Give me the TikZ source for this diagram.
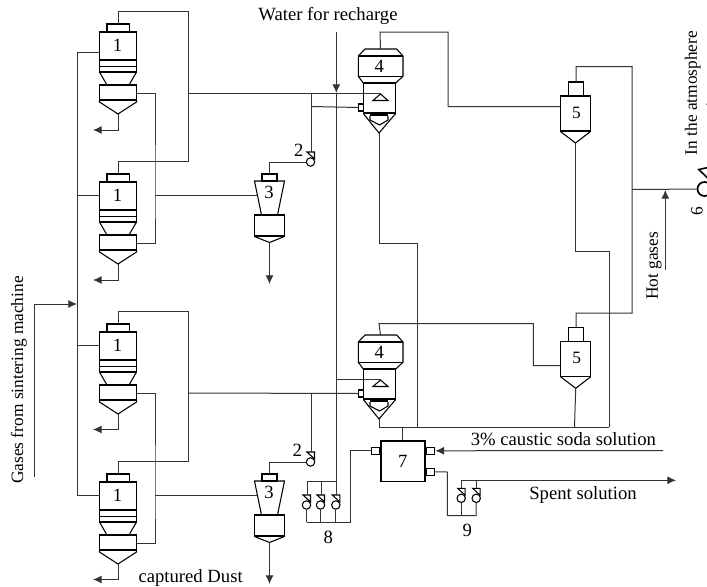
\documentclass[tikz,border=0pt]{standalone}
\usepackage{fontspec}
\setmainfont{Liberation Serif}
\usetikzlibrary{arrows.meta,calc}
\newcommand{\lblfont}{\fontsize{14}{16}\selectfont}
\newcommand{\sidefont}{\fontsize{13}{15}\selectfont}
\tikzset{
  unit/.style={line width=0.8pt},
  pipe/.style={line width=0.75pt,black!80},
  flow/.style={pipe,-{Latex[length=6.5pt,width=6pt]}},
  lbl/.style={font=\lblfont,inner sep=0pt},
  filter/.pic={
    \draw[unit] (-11,-8) rectangle (11.5,0);
    \draw[unit] (-18.5,0) rectangle (18.5,40);
    \draw[unit] (-18.5,28) -- (18.5,28) (-18.5,34.5) -- (18.5,34.5);
    \draw[unit] (-18.5,40) -- (-11,53) (18.5,40) -- (11,53);
    \draw[unit] (-18.5,53) rectangle (18.5,68);
    \draw[unit] (-18.5,68) -- (-18.5,70) -- (0,82) -- (18.5,70) -- (18.5,68);
    \node[lbl] (-num) at (-0.5,13) {1};
    \coordinate (-top) at (0.5,-8);
    \coordinate (-left) at (-18.5,13);
    \coordinate (-ret) at (18.5,61);
    \coordinate (-out) at (0,82);
  },
  cyclone/.pic={
    \draw[unit] (-7.5,-7) rectangle (7.5,0);
    \draw[unit] (-15,0) -- (15,0) -- (8,34) -- (-8,34) -- cycle;
    \draw[unit] (-15,34) rectangle (15,55);
    \draw[unit] (-15,55.5) -- (0,61.5) -- (15,55.5);
    \node[lbl] (-num) at (-0.5,11) {3};
    \coordinate (-top) at (0,-7);
    \coordinate (-in) at (-12.5,14);
    \coordinate (-out) at (0,61.5);
  },
  scrubber/.pic={
    \draw[unit] (-22.4,7) -- (-15.7,0) -- (16,0) -- (22.3,7) -- (22.3,27.3) -- (15,34) -- (-17.4,34) -- (-22.4,27.3) -- cycle;
    \draw[unit] (-22.4,7) -- (22.3,7) (-22.4,27.3) -- (22.3,27.3);
    \draw[unit] (-17.4,34) rectangle (15,64);
    \draw[unit] (-17.4,64.5) -- (-1.7,84) -- (15,64.5);
    \fill (-10.7,65) rectangle (7.3,67);
    \draw[unit] (-10.7,67) -- (-10.7,71) -- (-1.2,76) -- (7.3,71) -- (7.3,67);
    \draw[unit] (-0.2,45) -- (-7.7,51.5) -- (7.3,51.5) -- cycle;
    \draw[unit] (-22.4,55) rectangle (-17.4,62);
    \node[lbl] (-num) at (-1.5,17.5) {4};
    \coordinate (-top) at (-0.2,0);
    \coordinate (-tri) at (-0.2,45);
    \coordinate (-port) at (-22.4,58.5);
    \coordinate (-out) at (-1.7,84);
  },
  separator/.pic={
    \draw[unit] (-7.2,-14) rectangle (7.8,0);
    \draw[unit] (-15,0) rectangle (15,35);
    \draw[unit] (-15,35.5) -- (0,47) -- (15,35.5);
    \node[font=\sidefont,inner sep=0pt] (-num) at (1,16.7) {5};
    \coordinate (-top) at (0.5,-14);
    \coordinate (-left) at (-15,10.5);
    \coordinate (-out) at (0,47);
  },
  valve/.pic={
    \draw[unit] (-4,0) -- (3.5,0) -- (3.5,7) -- cycle;
    \node[draw,unit,circle,inner sep=0pt,minimum size=6.3pt] (-ball) at (-0.5,10) {};
    \coordinate (-in) at (0,0);
  }
}
\begin{document}
\begin{tikzpicture}[x=0.75pt,y=-0.75pt]
  \clip (0,0) rectangle (707,586);
  % first-stage filters
  \pic (fa) at (118,32) {filter};
  \pic (fb) at (118,182) {filter};
  \pic (fc) at (118,332) {filter};
  \pic (fd) at (118,482) {filter};
  \pic (ca) at (269.5,181) {cyclone};
  \pic (cb) at (269.5,481) {cyclone};
  \pic (sa) at (380.7,49) {scrubber};
  \pic (sb) at (380.7,335) {scrubber};
  \pic (da) at (575.5,96) {separator};
  \pic (db) at (575.7,341.3) {separator};
  \pic (va) at (311,152) {valve};
  \pic (vb) at (311,452) {valve};
  \pic (ve) at (307,495) {valve};
  \pic (vf) at (321,495) {valve};
  \pic (vg) at (336.3,495) {valve};
  \pic (vh) at (461.7,488.3) {valve};
  \pic (vi) at (476.7,488.3) {valve};
  \node[draw,line width=1.1pt,minimum width=33pt,minimum height=30.6pt,inner sep=0pt,font=\lblfont] (tank) at (402.8,461.2) {7};
  \node[draw,unit,minimum width=6.3pt,minimum height=5.2pt,inner sep=0pt,anchor=east] (portl) at (tank.west |- 0,450.8) {};
  \node[draw,unit,minimum width=6.6pt,minimum height=5.2pt,inner sep=0pt,anchor=west] (portr) at (tank.east |- 0,450.8) {};
  \node[draw,unit,minimum width=6.6pt,minimum height=5.2pt,inner sep=0pt,anchor=west] (portq) at (tank.east |- 0,471.8) {};
  \node[draw,line width=1.3pt,circle,inner sep=0pt,minimum size=10.5pt] (fan) at (704.5,189) {};
  \draw[line width=1.2pt] (708,167.5) -- (698.8,169.5) -- (708,178.5);
  % gas header
  \coordinate (hdra) at (77.5,52);
  \coordinate (hdrb) at (77.5,195);
  \coordinate (hdrc) at (77.5,345.5);
  \coordinate (hdrd) at (77.5,495);
  \coordinate (feeda) at (34.5,476.5);
  \coordinate (feedb) at (77,304);
  \draw[pipe] (fa-left |- hdra) -- (hdra) -- (hdrd) -- (fd-left |- hdrd);
  \draw[pipe] (hdrb) -- (fb-left |- hdrb);
  \draw[pipe] (hdrc) -- (fc-left |- hdrc);
  \draw[flow] (feeda) |- (feedb);
  % filter outlets, upper pair
  \coordinate (gasa) at (188,11);
  \coordinate (gasb) at (188,161);
  \coordinate (gasj) at (188,93);
  \coordinate (tapa) at (311,93);
  \coordinate (tapb) at (311,106.5);
  \coordinate (reta) at (155,195);
  \draw[pipe] (fa-top) |- (gasa) -- (gasb) -| (fb-top);
  \draw[pipe] (gasj) -- (sa-tri |- gasj);
  \draw[pipe] (tapa) -- (va-in);
  \draw[pipe] (tapb) -- (sa-port);
  \draw[pipe] (fa-ret) -| (reta) |- (fb-ret);
  \draw[pipe] (reta) -- (ca-in);
  \draw[pipe] (va-ball.west) -| (ca-top);
  % filter outlets, lower pair
  \coordinate (gasc) at (188,311);
  \coordinate (gasd) at (188,461);
  \coordinate (gask) at (188,393);
  \coordinate (tapc) at (311,393);
  \coordinate (retb) at (155,495);
  \draw[pipe] (fc-top) |- (gasc) -- (gasd) -| (fd-top);
  \draw[pipe] (gask) -- (sb-port);
  \draw[pipe] (tapc) -- (vb-in);
  \draw[pipe] (fc-ret) -| (retb) |- (fd-ret);
  \draw[pipe] (retb) -- (cb-in);
  \draw[pipe] (vb-ball.west) -| (cb-top);
  % dust outlets
  \coordinate (dusta) at (93,130);
  \coordinate (dustb) at (93,280);
  \coordinate (dustc) at (93,429.5);
  \coordinate (dustd) at (93,579.5);
  \coordinate (sinka) at (269.5,284);
  \coordinate (sinkb) at (269.5,584);
  \draw[flow] (fa-out) |- (dusta);
  \draw[flow] (fb-out) |- (dustb);
  \draw[flow] (fc-out) |- (dustc);
  \draw[flow] (fd-out) |- (dustd);
  \draw[flow] (ca-out) -- (sinka);
  \draw[flow] (cb-out) -- (sinkb);
  % water
  \coordinate (wata) at (336.3,32);
  \coordinate (watb) at (336.3,93);
  \coordinate (watc) at (336.3,379.5);
  \coordinate (watd) at (336.3,481.7);
  \coordinate (bara) at (307,481.7);
  \coordinate (barb) at (307,522.3);
  \coordinate (barc) at (350.7,522.3);
  \draw[flow] (wata) -- (watb);
  \draw[pipe] (watb) -- (watd) -- (bara) -- (ve-in);
  \draw[pipe] (watc) -- (sb-tri |- watc);
  \draw[pipe] (vf-in |- watd) -- (vf-in);
  \draw[pipe] (watd) -- (vg-in);
  \draw[pipe] (ve-ball.south) -- (ve-ball.south |- barb);
  \draw[pipe] (vf-ball.south) -- (vf-ball.south |- barb);
  \draw[pipe] (vg-ball.south) -- (vg-ball.south |- barb);
  \draw[pipe] (ve-ball.south |- barb) -- (barc) |- (portl);
  % second stage
  \coordinate (upa) at (380,32);
  \coordinate (upb) at (448,32);
  \coordinate (upc) at (448,106.5);
  \coordinate (dna) at (379,243);
  \coordinate (dnb) at (417.3,243);
  \coordinate (dnc) at (417.3,427);
  \coordinate (coll) at (379,427);
  \coordinate (colr) at (609.3,427);
  \coordinate (colm) at (574.5,427);
  \coordinate (colt) at (402.8,427);
  \draw[pipe] (sa-top) -- (upa) -- (upb) -- (upc) -- (da-left);
  \draw[pipe] (sa-out) -- (dna) -- (dnb) -- (dnc);
  \draw[pipe] (sb-out) -- (coll) -- (colr);
  \draw[pipe] (colt) -- (tank);
  \draw[pipe] (db-out) -- (colm);
  \coordinate (upd) at (533.3,323.5);
  \coordinate (upe) at (379,323.5);
  \draw[pipe] (db-left |- 0,365.7) -| (upd) -- (upe) -- (sb-top);
  \coordinate (dnd) at (575.5,251.5);
  \coordinate (dne) at (609.3,251.5);
  \draw[pipe] (da-out) -- (dnd) -- (dne) -- (colr);
  % stack
  \coordinate (staa) at (576,66.5);
  \coordinate (stab) at (632,66.5);
  \coordinate (stac) at (632,313);
  \coordinate (stad) at (576,313);
  \coordinate (staj) at (632,189.5);
  \draw[pipe] (da-top) |- (staa) -- (stab) -- (stac) -- (stad) -- (db-top);
  \draw[pipe] (staj) -- (fan);
  \coordinate (hota) at (665.3,269.5);
  \coordinate (hotb) at (665.3,190);
  \draw[flow] (hota) -- (hotb);
  \coordinate (atma) at (710,170);
  \coordinate (atmb) at (710,96);
  \draw[flow] (atma) -- (atmb);
  % solution
  \coordinate (soda) at (663,450.5);
  \coordinate (spta) at (447.3,472);
  \coordinate (sptb) at (447.3,515.7);
  \coordinate (sptc) at (461.7,480.3);
  \coordinate (sptd) at (676,480.3);
  \draw[flow] (soda) -- (portr);
  \draw[pipe] (portq) -- (spta) -- (sptb) -- (vi-ball.south |- sptb) -- (vi-ball.south);
  \draw[pipe] (vh-ball.south) -- (vh-ball.south |- sptb);
  \draw[pipe] (sptc) -- (vh-in);
  \draw[pipe] (vi-in |- sptc) -- (vi-in);
  \draw[flow] (sptc) -- (sptd);
  % labels
  \node[lbl] (water) at (328,16) {Water for recharge};
  \node[lbl] (dust) at (190.6,578) {captured Dust};
  \node[lbl] (caustic) at (563.4,439) {3\% caustic soda solution};
  \node[lbl] (spent) at (583,495) {Spent solution};
  \node[font=\sidefont,inner sep=0pt,rotate=90] (gases) at (19,380) {Gases from sintering machine};
  \node[font=\sidefont,inner sep=0pt,rotate=90] (hot) at (654,266) {Hot gases};
  \node[font=\sidefont,inner sep=0pt,rotate=90] (atmos) at (692.7,93) {In the atmosphere};
  \node[font=\sidefont,inner sep=0pt,rotate=90] (six) at (697,211) {6};
  \node[lbl] (twoa) at (298.7,150.7) {2};
  \node[lbl] (twob) at (297.3,450.7) {2};
  \node[lbl] (eight) at (328.3,537.3) {8};
  \node[lbl] (nine) at (467.3,530) {9};
\end{tikzpicture}
\end{document}
